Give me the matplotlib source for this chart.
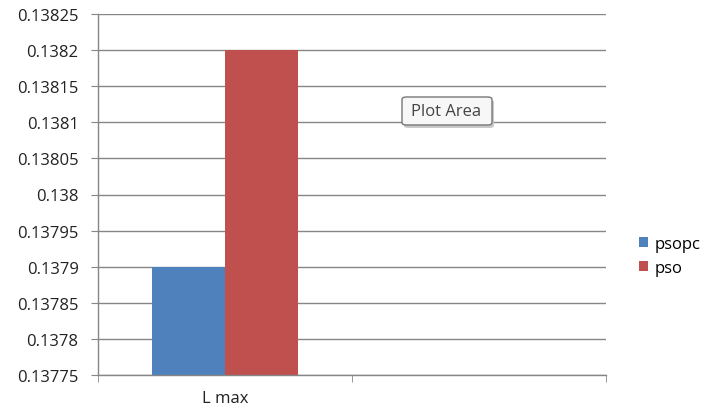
import matplotlib
matplotlib.use("Agg")
import matplotlib.pyplot as plt
from matplotlib.patches import FancyBboxPatch

categories = ["L max", ""]
series_names = ["psopc", "pso"]
psopc_vals = [0.1379, None]
pso_vals = [0.1382, None]
colors = ["#4F81BD", "#C0504D"]
y_ticks = [0.13775, 0.1378, 0.13785, 0.1379, 0.13795, 0.138,
           0.13805, 0.1381, 0.13815, 0.1382, 0.13825]
y_labels = ["0.13775", "0.1378", "0.13785", "0.1379", "0.13795", "0.138",
            "0.13805", "0.1381", "0.13815", "0.1382", "0.13825"]

plt.rcParams["font.family"] = ["Open Sans", "DejaVu Sans"]
fs = 12

fig = plt.figure(figsize=(7.01, 4.14), dpi=100)
ax = fig.add_axes([98 / 701, 1 - 376 / 414, (606 - 98) / 701, (376 - 15) / 414])

bar_w = 0.287
for i, (name, vals) in enumerate(zip(series_names, [psopc_vals, pso_vals])):
    xs = [j for j, v in enumerate(vals) if v is not None]
    hs = [v - y_ticks[0] for v in vals if v is not None]
    offs = (i - 0.5) * bar_w
    ax.bar([x + offs for x in xs], hs, bottom=y_ticks[0], width=bar_w,
           color=colors[i], label=name, zorder=3)

ax.set_xlim(-0.5, len(categories) - 0.5)
ax.set_ylim(y_ticks[0], y_ticks[-1])
ax.set_yticks(y_ticks)
ax.set_yticklabels(y_labels, fontsize=fs, color="#222222")
ax.set_xticks([0])
ax.set_xticklabels([categories[0]], fontsize=fs, color="#222222")
ax.set_xticks([-0.5, 0.5, 1.5], minor=True)
ax.tick_params(axis="x", which="major", length=0, pad=11)
ax.tick_params(axis="x", which="minor", length=5, color="#868686", direction="out")
ax.tick_params(axis="y", length=5, color="#868686", pad=9)

ax.grid(axis="y", color="#868686", linewidth=1, zorder=0)
ax.set_axisbelow(True)
for s in ["top", "right"]:
    ax.spines[s].set_visible(False)
for s in ["left", "bottom"]:
    ax.spines[s].set_color("#868686")
    ax.spines[s].set_linewidth(1)
    ax.spines[s].set_zorder(4)

leg = fig.legend(loc="upper left", bbox_to_anchor=(632 / 701, 1 - 230 / 414),
                 frameon=False, fontsize=fs, handlelength=0.55, handleheight=0.55,
                 handletextpad=0.4, labelspacing=0.5, borderaxespad=0)

# tooltip box "Plot Area"
box = FancyBboxPatch((402 / 701, 1 - 126 / 414), 90 / 701, 28 / 414,
                     boxstyle="round,pad=0,rounding_size=0.006",
                     transform=fig.transFigure, facecolor="#F7F7F7",
                     edgecolor="#777777", linewidth=1, zorder=10)
shadow = FancyBboxPatch((404 / 701, 1 - 129 / 414), 90 / 701, 28 / 414,
                        boxstyle="round,pad=0,rounding_size=0.006",
                        transform=fig.transFigure, facecolor="#C8C8C8",
                        edgecolor="none", zorder=9)
fig.patches.extend([shadow, box])
fig.text(446 / 701, 1 - 112 / 414, "Plot Area", ha="center", va="center",
         fontsize=fs, color="#444444", zorder=11)

fig.savefig("out.png", dpi=100)
